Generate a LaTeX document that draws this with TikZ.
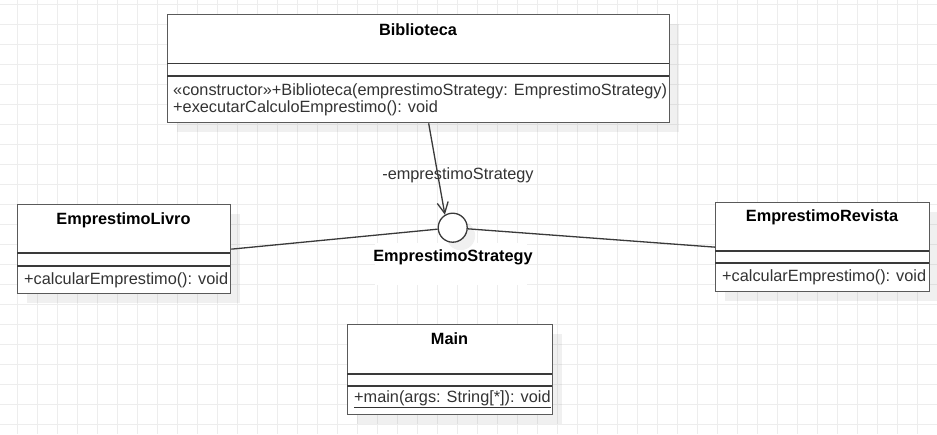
\documentclass[tikz,border=0pt]{standalone}
\usepackage{fontspec}
\setmainfont{Liberation Sans}
\usetikzlibrary{arrows.meta,shadows}
\definecolor{gridc}{HTML}{EDEDED}
\definecolor{linec}{HTML}{3A3A3A}
\definecolor{borderc}{HTML}{5A5A5A}
\definecolor{txtc}{HTML}{333333}
\tikzset{
  umlbox/.style={draw=borderc, line width=1.3pt, fill=white, anchor=north west, inner sep=0pt,
    drop shadow={shadow xshift=9pt, shadow yshift=-9pt, fill=black, opacity=0.06}},
  divider/.style={draw=linec, line width=1.2pt},
  titletxt/.style={font=\fontsize{16.3}{19}\selectfont\bfseries, text=black, inner sep=0pt},
  memtxt/.style={font=\fontsize{16.3}{19}\selectfont, text=txtc, inner sep=0pt, anchor=west, align=left},
  conn/.style={draw=linec, line width=1.3pt},
}
\begin{document}
\begin{tikzpicture}[x=1pt,y=-1pt]
\useasboundingbox (0,0) rectangle (937,434);
\fill[white] (0,0) rectangle (937,434);
% grid
\foreach \gx in {17,37,...,937} \draw[gridc, line width=1pt] (\gx,0) -- (\gx,434);
\foreach \gy in {4,24,...,434} \draw[gridc, line width=1pt] (0,\gy) -- (937,\gy);

% Biblioteca
\node[umlbox, minimum width=502pt, minimum height=108pt] (bib) at (167,14) {};
\draw[divider] (167,63.5) -- (669,63.5);
\draw[divider] (167,76) -- (669,76);
\node[titletxt] (bibt) at (418,30) {Biblioteca};
\node[memtxt] (bibm1) at (173,91) {«constructor»+Biblioteca(emprestimoStrategy: EmprestimoStrategy)};
\node[memtxt] (bibm2) at (173,108) {+executarCalculoEmprestimo(): void};

% EmprestimoLivro
\node[umlbox, minimum width=213pt, minimum height=89pt] (livro) at (17,204) {};
\draw[divider] (17,253) -- (230,253);
\draw[divider] (17,266) -- (230,266);
\node[titletxt] (livrot) at (123.5,220) {EmprestimoLivro};
\node[memtxt] (livrom) at (24,280) {+calcularEmprestimo(): void};

% EmprestimoRevista
\node[umlbox, minimum width=214pt, minimum height=89pt] (rev) at (715,202) {};
\draw[divider] (715,251) -- (929,251);
\draw[divider] (715,263) -- (929,263);
\node[titletxt] (revt) at (822,217) {EmprestimoRevista};
\node[memtxt] (revm) at (722,277) {+calcularEmprestimo(): void};

% Main
\node[umlbox, minimum width=205pt, minimum height=90pt] (main) at (347,324) {};
\draw[divider] (347,374) -- (552,374);
\draw[divider] (347,386) -- (552,386);
\node[titletxt] (maint) at (449.5,339) {Main};
\node[memtxt] (mainm) at (354,399) {\underline{+main(args: String[*]): void}};

% interface
\fill[white] (375,243) rectangle (527,285);
\node[circle, draw=linec, line width=1.3pt, fill=white, minimum size=29pt, inner sep=0pt,
  drop shadow={shadow xshift=8pt, shadow yshift=-8pt, fill=black, opacity=0.06}] (iface) at (452.7,227.7) {};
\node[titletxt] (ifacet) at (453,257) {EmprestimoStrategy};

% connectors
\draw[conn] (livro.east) -- (iface);
\draw[conn] (iface) -- (rev.west);
\draw[conn, -{Straight Barb[length=11pt,width=11pt,line width=1.3pt]}] ([xshift=10pt]bib.south) -- (iface.121);
\node[memtxt, anchor=center] (assoc) at (458,175) {-emprestimoStrategy};
\end{tikzpicture}
\end{document}
